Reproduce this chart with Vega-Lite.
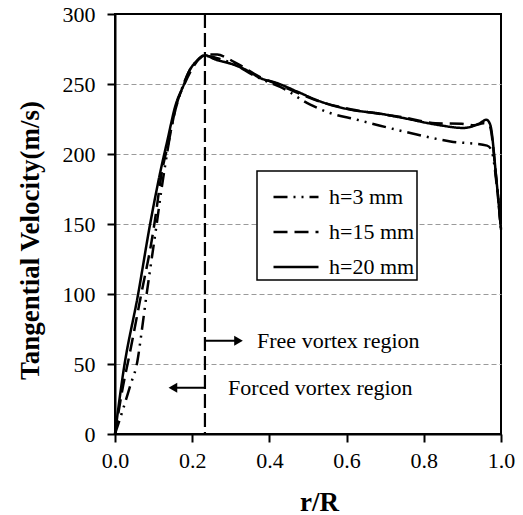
{
  "$schema": "https://vega.github.io/schema/vega-lite/v6.json",
  "width": 386,
  "height": 420,
  "autosize": {"type": "none"},
  "padding": {"left": 115, "top": 14, "right": 22, "bottom": 81},
  "background": "white",
  "config": {
    "view": {"stroke": "black", "strokeWidth": 2},
    "font": "Liberation Serif",
    "legend": {"strokeWidth": 1.5},
    "axis": {
      "domainColor": "black", "domainWidth": 2, "tickColor": "black", "tickWidth": 2,
      "labelFont": "Liberation Serif", "labelFontSize": 22, "labelColor": "black",
      "titleFont": "Liberation Serif", "titleFontSize": 27, "titleFontWeight": "bold", "titleColor": "black",
      "labelFlush": false, "labelOverlap": false
    }
  },
  "datasets": {
    "curves": [
      {"r": 0, "v": 0, "h": "h=20 mm"},
      {"r": 0.022, "v": 45, "h": "h=20 mm"},
      {"r": 0.06, "v": 100, "h": "h=20 mm"},
      {"r": 0.091, "v": 150, "h": "h=20 mm"},
      {"r": 0.118, "v": 188, "h": "h=20 mm"},
      {"r": 0.136, "v": 210, "h": "h=20 mm"},
      {"r": 0.156, "v": 234, "h": "h=20 mm"},
      {"r": 0.179, "v": 250, "h": "h=20 mm"},
      {"r": 0.19, "v": 258, "h": "h=20 mm"},
      {"r": 0.21, "v": 266, "h": "h=20 mm"},
      {"r": 0.233, "v": 270.5, "h": "h=20 mm"},
      {"r": 0.26, "v": 267.5, "h": "h=20 mm"},
      {"r": 0.3, "v": 264.5, "h": "h=20 mm"},
      {"r": 0.34, "v": 260, "h": "h=20 mm"},
      {"r": 0.376, "v": 254.3, "h": "h=20 mm"},
      {"r": 0.419, "v": 250.7, "h": "h=20 mm"},
      {"r": 0.471, "v": 244.7, "h": "h=20 mm"},
      {"r": 0.531, "v": 237.6, "h": "h=20 mm"},
      {"r": 0.609, "v": 231.7, "h": "h=20 mm"},
      {"r": 0.687, "v": 228.8, "h": "h=20 mm"},
      {"r": 0.747, "v": 225.7, "h": "h=20 mm"},
      {"r": 0.834, "v": 220.9, "h": "h=20 mm"},
      {"r": 0.903, "v": 218.6, "h": "h=20 mm"},
      {"r": 0.946, "v": 222.1, "h": "h=20 mm"},
      {"r": 0.962, "v": 224.5, "h": "h=20 mm"},
      {"r": 0.972, "v": 221, "h": "h=20 mm"},
      {"r": 0.988, "v": 182, "h": "h=20 mm"},
      {"r": 1.0, "v": 146, "h": "h=20 mm"},

      {"r": 0, "v": 0, "h": "h=15 mm"},
      {"r": 0.018, "v": 30, "h": "h=15 mm"},
      {"r": 0.04, "v": 60, "h": "h=15 mm"},
      {"r": 0.068, "v": 100, "h": "h=15 mm"},
      {"r": 0.095, "v": 138, "h": "h=15 mm"},
      {"r": 0.102, "v": 150, "h": "h=15 mm"},
      {"r": 0.122, "v": 188, "h": "h=15 mm"},
      {"r": 0.14, "v": 210, "h": "h=15 mm"},
      {"r": 0.158, "v": 234, "h": "h=15 mm"},
      {"r": 0.18, "v": 250, "h": "h=15 mm"},
      {"r": 0.2, "v": 261, "h": "h=15 mm"},
      {"r": 0.22, "v": 268.5, "h": "h=15 mm"},
      {"r": 0.24, "v": 271, "h": "h=15 mm"},
      {"r": 0.265, "v": 271, "h": "h=15 mm"},
      {"r": 0.29, "v": 268.5, "h": "h=15 mm"},
      {"r": 0.32, "v": 264, "h": "h=15 mm"},
      {"r": 0.376, "v": 255, "h": "h=15 mm"},
      {"r": 0.42, "v": 250, "h": "h=15 mm"},
      {"r": 0.47, "v": 244, "h": "h=15 mm"},
      {"r": 0.53, "v": 237.5, "h": "h=15 mm"},
      {"r": 0.61, "v": 232, "h": "h=15 mm"},
      {"r": 0.69, "v": 228.5, "h": "h=15 mm"},
      {"r": 0.75, "v": 226, "h": "h=15 mm"},
      {"r": 0.83, "v": 222, "h": "h=15 mm"},
      {"r": 0.898, "v": 221.6, "h": "h=15 mm"},
      {"r": 0.93, "v": 220.5, "h": "h=15 mm"},
      {"r": 0.955, "v": 222, "h": "h=15 mm"},
      {"r": 0.97, "v": 220.5, "h": "h=15 mm"},
      {"r": 0.988, "v": 182, "h": "h=15 mm"},
      {"r": 1.0, "v": 146, "h": "h=15 mm"},

      {"r": 0, "v": 0, "h": "h=3 mm"},
      {"r": 0.02, "v": 17, "h": "h=3 mm"},
      {"r": 0.04, "v": 35, "h": "h=3 mm"},
      {"r": 0.058, "v": 52, "h": "h=3 mm"},
      {"r": 0.07, "v": 75, "h": "h=3 mm"},
      {"r": 0.082, "v": 100, "h": "h=3 mm"},
      {"r": 0.095, "v": 125, "h": "h=3 mm"},
      {"r": 0.108, "v": 150, "h": "h=3 mm"},
      {"r": 0.12, "v": 174, "h": "h=3 mm"},
      {"r": 0.13, "v": 192, "h": "h=3 mm"},
      {"r": 0.15, "v": 224, "h": "h=3 mm"},
      {"r": 0.17, "v": 244, "h": "h=3 mm"},
      {"r": 0.19, "v": 258, "h": "h=3 mm"},
      {"r": 0.21, "v": 266, "h": "h=3 mm"},
      {"r": 0.235, "v": 270, "h": "h=3 mm"},
      {"r": 0.27, "v": 268, "h": "h=3 mm"},
      {"r": 0.31, "v": 264, "h": "h=3 mm"},
      {"r": 0.36, "v": 256, "h": "h=3 mm"},
      {"r": 0.4, "v": 251, "h": "h=3 mm"},
      {"r": 0.428, "v": 247.9, "h": "h=3 mm"},
      {"r": 0.506, "v": 235.2, "h": "h=3 mm"},
      {"r": 0.557, "v": 229.3, "h": "h=3 mm"},
      {"r": 0.627, "v": 224.5, "h": "h=3 mm"},
      {"r": 0.687, "v": 220.2, "h": "h=3 mm"},
      {"r": 0.765, "v": 215, "h": "h=3 mm"},
      {"r": 0.869, "v": 209, "h": "h=3 mm"},
      {"r": 0.964, "v": 206, "h": "h=3 mm"},
      {"r": 0.975, "v": 203, "h": "h=3 mm"},
      {"r": 0.99, "v": 175, "h": "h=3 mm"},
      {"r": 1.0, "v": 146, "h": "h=3 mm"}
    ],
    "divider": [{"r": 0.233}],
    "arrows": [
      {"x1": 0.233, "x2": 0.322, "y": 66.6, "dir": "right"},
      {"x1": 0.233, "x2": 0.148, "y": 33, "dir": "left"}
    ],
    "heads": [
      {"x": 0.32, "y": 66.6, "dir": "right"},
      {"x": 0.15, "y": 33, "dir": "left"}
    ],
    "labels": [
      {"x": 0.368, "y": 66.6, "text": "Free vortex region"},
      {"x": 0.293, "y": 33, "text": "Forced vortex region"}
    ]
  },
  "layer": [
    {
      "data": {"name": "curves"},
      "mark": {"type": "line", "color": "black", "strokeWidth": 2.5, "interpolate": "monotone"},
      "encoding": {
        "x": {
          "field": "r", "type": "quantitative",
          "scale": {"domain": [0, 1], "nice": false, "zero": false},
          "axis": {
            "title": "r/R", "values": [0, 0.2, 0.4, 0.6, 0.8, 1.0], "format": ".1f",
            "grid": false, "tickSize": 8, "labelPadding": 8,
            "titleX": 204, "titleY": 76, "titleBaseline": "alphabetic", "titleAlign": "center"
          }
        },
        "y": {
          "field": "v", "type": "quantitative",
          "scale": {"domain": [0, 300], "nice": false},
          "axis": {
            "title": "Tangential Velocity(m/s)",
            "values": [0, 25, 50, 75, 100, 125, 150, 175, 200, 225, 250, 275, 300],
            "labelExpr": "datum.value % 50 == 0 ? datum.label : ''",
            "tickSize": {"condition": {"test": "datum.value % 50 == 0", "value": 8}, "value": 5},
            "labelPadding": 12,
            "grid": true,
            "gridColor": "#9a9a9a", "gridWidth": 1, "gridDash": [5, 3],
            "gridOpacity": {"condition": {"test": "datum.value % 50 == 0 && datum.value > 0 && datum.value < 300", "value": 1}, "value": 0},
            "titleAngle": -90, "titleX": -85, "titleY": 226, "titleBaseline": "middle", "titleAlign": "center"
          }
        },
        "strokeDash": {
          "field": "h", "type": "nominal",
          "scale": {"domain": ["h=3 mm", "h=15 mm", "h=20 mm"], "range": [[14, 6, 2, 6, 2, 6], [14, 7], [1, 0]]},
          "legend": {
            "title": null, "orient": "none", "legendX": 142, "legendY": 157,
            "strokeColor": "black", "fillColor": "white",
            "padding": 2, "symbolType": "stroke", "symbolSize": 2025, "symbolStrokeWidth": 2.5,
            "symbolStrokeColor": "black", "symbolOffset": 13, "labelOffset": 9,
            "labelFont": "Liberation Serif", "labelFontSize": 22, "labelColor": "black",
            "rowPadding": -8
          }
        }
      }
    },
    {
      "data": {"name": "divider"},
      "mark": {"type": "rule", "color": "black", "strokeWidth": 2.2, "strokeDash": [14, 5]},
      "encoding": {"x": {"field": "r", "type": "quantitative"}}
    },
    {
      "data": {"name": "arrows"},
      "mark": {"type": "rule", "color": "black", "strokeWidth": 2},
      "encoding": {
        "x": {"field": "x1", "type": "quantitative"},
        "x2": {"field": "x2"},
        "y": {"field": "y", "type": "quantitative"}
      }
    },
    {
      "data": {"name": "heads"},
      "mark": {"type": "point", "filled": true, "color": "black", "opacity": 1, "size": 100},
      "encoding": {
        "x": {"field": "x", "type": "quantitative"},
        "y": {"field": "y", "type": "quantitative"},
        "shape": {"field": "dir", "type": "nominal", "scale": {"domain": ["right", "left"], "range": ["triangle-right", "triangle-left"]}, "legend": null}
      }
    },
    {
      "data": {"name": "labels"},
      "mark": {"type": "text", "align": "left", "baseline": "middle", "font": "Liberation Serif", "fontSize": 22, "color": "black"},
      "encoding": {
        "x": {"field": "x", "type": "quantitative"},
        "y": {"field": "y", "type": "quantitative"},
        "text": {"field": "text"}
      }
    }
  ]
}
